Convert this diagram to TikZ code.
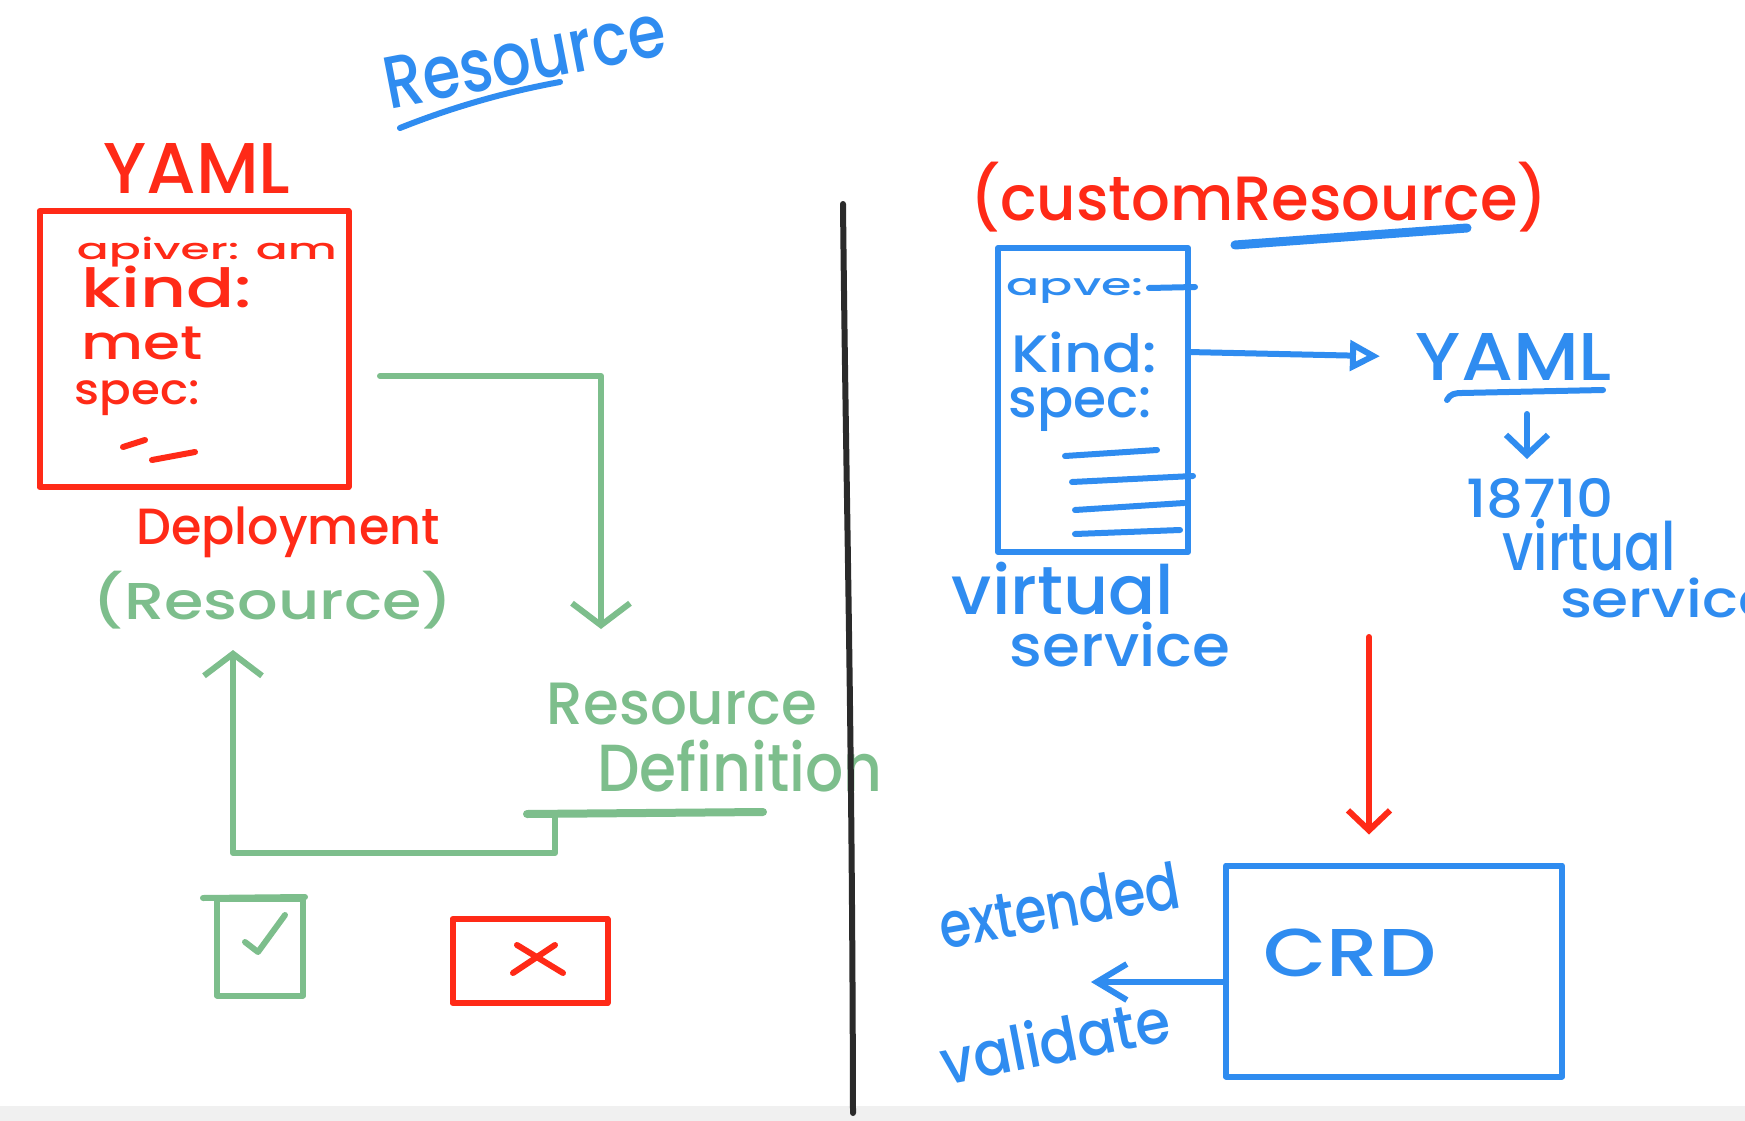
\documentclass[tikz,border=0pt]{standalone}
\usepackage{fontspec}
\setmainfont{Poppins Medium}
\usetikzlibrary{arrows.meta}
\definecolor{pred}{HTML}{FF2A17}
\definecolor{pblue}{HTML}{2F8CF0}
\definecolor{pgreen}{HTML}{7DBE8C}
\definecolor{pblack}{HTML}{2A2A2A}
\newcommand\fitbox[3]{\resizebox*{#1pt}{#2pt}{#3}}
\begin{document}
\begin{tikzpicture}[x=1pt,y=-1pt,line cap=round,line join=round,
  ink/.style={line width=6pt},
  lbl/.style={inner sep=0pt,outer sep=0pt},
  vbarb/.style={-{Straight Barb[length=22pt,width=58pt]}},
  sbarb/.style={-{Straight Barb[length=20pt,width=42pt]}},
  hbox/.style={draw,line width=6pt,inner sep=0pt,outer sep=0pt}]
\clip (0,0) rectangle (1745,1121);
\fill[white] (0,0) rectangle (1745,1121);
\fill[black!6] (0,1106) rectangle (1745,1121);

% ---------- left half ----------
\node[lbl,pblue,rotate=11] (restitle) at (525,57) {\fitbox{285}{52}{Resource}};
\draw[ink,pblue] (400,128) .. controls (450,108) and (505,92) .. (560,82);

\node[lbl,pred] (yaml1) at (197,168) {\fitbox{187}{50}{YAML}};
\node[hbox,pred,minimum width=309pt,minimum height=276pt] (redbox) at (194,349) {};
\node[lbl,pred] (apiver) at (207,252) {\fitbox{260}{30}{apiver: am}};
\node[lbl,pred] (kind1) at (167,287) {\fitbox{170}{42}{kind:}};
\node[lbl,pred] (met) at (142,343) {\fitbox{121}{33}{met}};
\node[lbl,pred] (spec1) at (137,398) {\fitbox{125}{35}{spec:}};
\draw[ink,pred] (123,447) -- (145,440);
\draw[ink,pred] (152,460) -- (195,452);
\node[lbl,pred] (deploy) at (288,532) {\fitbox{303}{51}{Deployment}};
\node[lbl,pgreen] (res2) at (273,600) {\fitbox{360}{58}{(Resource)}};

\coordinate (g1) at (380,376);
\coordinate (g1end) at (601,629);
\draw[ink,pgreen,vbarb] (g1) -- (g1end |- g1) -- (g1end);

\node[lbl,pgreen] (rd1) at (682,704) {\fitbox{270}{42}{Resource}};
\node[lbl,pgreen] (rd2) at (740,766) {\fitbox{285}{52}{Definition}};
\coordinate (gul) at (527,814);
\coordinate (gur) at (763,812);
\draw[line width=8pt,pgreen] (gul) -- (gur);
\coordinate (gu) at (555,815);
\coordinate (g2end) at (233,650);
\draw[ink,pgreen,vbarb] (gu) -- (555,853) -- (g2end |- 0,853) -- (g2end);

\node[hbox,pgreen,minimum width=86pt,minimum height=97pt] (okbox) at (260,947) {};
\draw[ink,pgreen] (203,898) -- (305,897);
\draw[ink,pgreen] (245,942) -- (258,952) -- (285,915);

\node[hbox,pred,minimum width=155pt,minimum height=84pt] (nobox) at (530,961) {};
\draw[ink,pred] (517,945) -- (563,973);
\draw[ink,pred] (555,945) -- (513,973);

% ---------- divider ----------
\coordinate (dtop) at (843,204);
\coordinate (dbot) at (853,1113);
\draw[line width=6pt,pblack] (dtop) .. controls (846,500) and (852,700) .. (dbot);

% ---------- right half ----------
\node[lbl,pred] (custom) at (1259,197) {\fitbox{577}{70}{(customResource)}};
\draw[line width=9pt,pblue] (1235,245) -- (1467,228);

\node[hbox,pblue,minimum width=190pt,minimum height=304pt] (bbox) at (1093,400) {};
\node[lbl,pblue] (apve) at (1075,291) {\fitbox{137}{25}{apve:}};
\draw[ink,pblue] (1149,288) -- (1195,287);
\node[lbl,pblue] (kind2) at (1084,352) {\fitbox{146}{41}{Kind:}};
\node[lbl,pblue] (spec2) at (1080,410) {\fitbox{143}{44}{spec:}};
\draw[ink,pblue] (1065,456) -- (1157,450);
\draw[ink,pblue] (1072,482) -- (1193,476);
\draw[ink,pblue] (1075,510) -- (1184,503);
\draw[ink,pblue] (1075,534) -- (1180,530);

\node[lbl,pblue] (yaml2) at (1514,357) {\fitbox{196}{47}{YAML}};
\draw[ink,pblue,-{Triangle[open,length=30pt,width=30pt]},shorten >=36pt]
  (bbox.east |- kind2.east) -- (yaml2.west);
\draw[ink,pblue] (1447,400) .. controls (1450,394) and (1455,393) .. (1462,393) -- (1603,390);
\coordinate (sa) at (1527,414);
\coordinate (sb) at (1527,459);
\draw[ink,pblue,sbarb] (sa) -- (sb);
\node[lbl,pblue] (num) at (1540,498) {\fitbox{147}{40}{18710}};
\node[lbl,pblue] (virt2) at (1589,545) {\fitbox{173}{52}{virtual}};
\node[lbl,pblue,anchor=west] (serv2) at (1560,598) {\fitbox{215}{40}{service}};

\node[lbl,pblue] (virt1) at (1063,589) {\fitbox{222}{53}{virtual}};
\node[lbl,pblue] (serv1) at (1120,645) {\fitbox{220}{45}{service}};

\node[hbox,pblue,minimum width=336pt,minimum height=211pt] (crd) at (1394,971) {};
\node[lbl,pblue] (crdtxt) at (1350,953) {\fitbox{173}{48}{CRD}};
\coordinate (ra) at (1369,637);
\draw[ink,pred,sbarb,shorten >=31pt] (ra) -- (crd.north -| ra);
\coordinate (ca) at (1091,982);
\draw[ink,pblue,-{Straight Barb[length=30pt,width=36pt]}] (ca -| crd.west) -- (ca);
\node[lbl,pblue,rotate=10] (ext) at (1059,905) {\fitbox{243}{48}{extended}};
\node[lbl,pblue,rotate=11] (val) at (1055,1040) {\fitbox{232}{48}{validate}};
\end{tikzpicture}
\end{document}
